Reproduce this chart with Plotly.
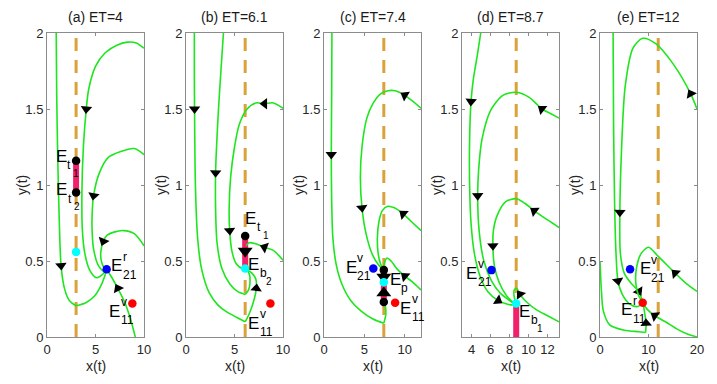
import math
import plotly.graph_objects as go

# panel text / axes
titles = ['(a) ET=4', '(b) ET=6.1', '(c) ET=7.4', '(d) ET=8.7', '(e) ET=12']
x_ranges = [[0, 10], [0, 10], [0, 12], [3, 13.2], [0, 20]]
x_ticks = [[0, 5, 10], [0, 5, 10], [0, 5, 10], [4, 6, 8, 10, 12], [0, 10, 20]]
y_ticks = [[0, 0.5, 1, 1.5, 2]] * 3 + [[0.5, 1, 1.5, 2], [0, 0.5, 1, 1.5, 2]]
et_x = [3, 6.1, 7.4, 8.7, 12]

# trajectories: (x list, y list, indices where an arrow head sits)
curves_a = [
    ([0.95, 1.0, 1.1, 1.25, 1.45, 1.8, 2.3, 3.0], [2.0, 1.6, 1.2, 0.8, 0.47, 0.32, 0.24, 0.205], [4]),
    ([3.0, 4.0, 4.9, 5.5, 5.95, 6.15], [0.205, 0.225, 0.27, 0.33, 0.4, 0.445], []),
    ([10, 9.2, 8.3, 7.2, 6.0, 5.0, 4.3, 4.05, 3.75, 3.6, 3.65, 3.9, 4.4, 5.1, 5.7, 6.15],
     [1.9, 1.935, 1.94, 1.92, 1.87, 1.78, 1.63, 1.5, 1.25, 0.95, 0.7, 0.55, 0.44, 0.39, 0.41, 0.445], [7]),
    ([10, 9.0, 7.6, 6.3, 5.4, 4.8, 4.65, 4.65, 4.8, 5.3, 5.9, 6.15],
     [1.2, 1.24, 1.22, 1.18, 1.08, 0.93, 0.8, 0.7, 0.58, 0.47, 0.43, 0.445], [5]),
    ([10, 9.0, 7.9, 6.9, 6.2, 5.8, 5.55, 5.6, 5.85, 6.15],
     [0.6, 0.68, 0.7, 0.69, 0.67, 0.63, 0.56, 0.5, 0.46, 0.445], [5]),
    ([9.1, 8.6, 8.0, 7.3, 6.7, 6.3, 6.15], [0.0, 0.12, 0.23, 0.32, 0.39, 0.43, 0.445], [3]),
]
curves_b = [
    ([0.86, 0.86, 0.88, 0.97, 1.2, 1.6, 2.4, 3.3, 4.2, 5.2, 6.1],
     [2.0, 1.75, 1.5, 1.0, 0.65, 0.45, 0.29, 0.21, 0.165, 0.13, 0.1], [2]),
    ([6.1, 6.5, 6.95, 7.25, 7.2, 6.8, 6.25], [0.1, 0.15, 0.23, 0.32, 0.38, 0.42, 0.445], [3]),
    ([3.86, 3.6, 3.35, 3.15, 3.05, 3.05, 3.2, 3.7, 4.5, 5.3, 6.1],
     [2.0, 1.75, 1.5, 1.25, 1.08, 0.85, 0.62, 0.45, 0.35, 0.3, 0.28], [4]),
    ([6.1, 6.45, 6.6, 6.55, 6.25], [0.28, 0.31, 0.36, 0.41, 0.445], []),
    ([10, 9.0, 8.1, 7.2, 6.3, 5.5, 5.0, 4.6, 4.45, 4.5, 4.75, 5.2, 5.8, 6.1],
     [1.505, 1.54, 1.535, 1.54, 1.5, 1.4, 1.25, 1.05, 0.85, 0.7, 0.56, 0.48, 0.45, 0.45], [2, 9]),
    ([10, 9.0, 8.1, 7.1, 6.5, 6.2], [0.505, 0.57, 0.59, 0.615, 0.62, 0.6], [2]),
]
curves_c = [
    ([0.98, 0.95, 0.9, 0.95, 1.1, 1.5, 2.2, 3.3, 4.6, 6.0, 7.4],
     [2.0, 1.6, 1.2, 0.9, 0.65, 0.48, 0.35, 0.24, 0.17, 0.12, 0.09], [2]),
    ([7.4, 7.65, 7.6, 7.4], [0.09, 0.15, 0.2, 0.23], []),
    ([12, 11, 10, 8.8, 7.9, 7.0, 6.1, 5.3, 4.7, 4.5, 4.7, 5.2, 6.0, 6.8, 7.4],
     [1.505, 1.55, 1.59, 1.62, 1.62, 1.6, 1.54, 1.44, 1.25, 1.05, 0.85, 0.68, 0.54, 0.47, 0.44], [2, 10]),
    ([12, 10.8, 9.8, 8.7, 7.9, 7.2, 6.8, 6.6, 6.7, 7.0, 7.4],
     [0.7, 0.76, 0.81, 0.85, 0.86, 0.83, 0.76, 0.65, 0.55, 0.48, 0.44], [2]),
    ([12, 11, 10, 9.0, 8.3, 7.8, 7.5, 7.4], [0.31, 0.36, 0.4, 0.45, 0.5, 0.52, 0.49, 0.44], [2]),
]
curves_d = [
    ([4.97, 4.6, 4.2, 3.95, 3.8, 3.8, 3.95, 4.3, 4.9, 5.7, 6.8, 7.8, 8.6],
     [2.0, 1.85, 1.7, 1.55, 1.3, 1.0, 0.75, 0.55, 0.4, 0.3, 0.24, 0.215, 0.21], [3, 10]),
    ([13.2, 12.3, 11.4, 10.1, 8.7, 7.3, 6.0, 5.1, 4.75, 4.65, 4.8, 5.3, 6.1, 7.0, 8.0, 8.6],
     [1.44, 1.47, 1.5, 1.575, 1.61, 1.59, 1.49, 1.3, 1.1, 0.93, 0.7, 0.5, 0.37, 0.29, 0.24, 0.215], [2, 9]),
    ([13.2, 12, 10.6, 9.6, 8.7, 7.6, 6.7, 6.3, 6.25, 6.4, 6.9, 7.7, 8.6],
     [0.72, 0.77, 0.83, 0.88, 0.91, 0.89, 0.8, 0.7, 0.6, 0.47, 0.36, 0.27, 0.215], [2, 8]),
    ([13.2, 12, 10.8, 9.8, 9.1, 8.75, 8.5, 8.5, 8.7], [0.1, 0.14, 0.18, 0.23, 0.28, 0.32, 0.31, 0.26, 0.22], [4]),
]
curves_e = [
    ([0, 0.3, 0.7, 2.0, 5.0, 8.0, 9.4], [0.5, 0.3, 0.17, 0.08, 0.045, 0.035, 0.03], []),
    ([9.4, 9.5, 9.2, 8.9], [0.03, 0.09, 0.16, 0.22], [1]),
    ([2.7, 2.8, 3.0, 3.3, 3.7, 4.6, 6.0, 7.6, 8.8], [2.0, 1.4, 0.9, 0.55, 0.37, 0.28, 0.22, 0.2, 0.22], [4]),
    ([20, 18, 16, 13.5, 11.3, 9.8, 8.9], [0.0, 0.02, 0.05, 0.1, 0.14, 0.18, 0.22], [4]),
    ([20, 18.7, 15, 11.5, 8.8, 6.8, 5.2, 4.4, 4.1, 4.2, 5.0, 6.5, 8.0, 8.8],
     [1.5, 1.6, 1.8, 1.93, 1.965, 1.9, 1.65, 1.2, 0.82, 0.55, 0.42, 0.35, 0.3, 0.23], [1, 8, 12]),
    ([20, 17.5, 15.5, 12, 10, 8.5, 7.5, 7.4, 8.0, 8.8],
     [0.3, 0.36, 0.42, 0.53, 0.59, 0.55, 0.45, 0.35, 0.27, 0.23], [2]),
]
curves = [curves_a, curves_b, curves_c, curves_d, curves_e]

# sliding segments on x = ET line
bar_y = [[0.95, 1.16], [0.45, 0.665], [0.23, 0.44], [0.0, 0.21], None]

# equilibria
dots_x = [[3, 3, 3, 6.15, 8.8], [6.1, 6.1, 8.7], [7.4, 7.4, 7.4, 6.1, 8.8], [8.7, 6.1], [6.2, 8.8]]
dots_y = [[1.16, 0.95, 0.56, 0.445, 0.22], [0.665, 0.45, 0.22], [0.44, 0.23, 0.36, 0.45, 0.225],
          [0.22, 0.44], [0.445, 0.225]]
dots_c = [['black', 'black', '#00ffff', '#0000ff', '#ff0000'], ['black', '#00ffff', '#ff0000'],
          ['black', 'black', '#00ffff', '#0000ff', '#ff0000'], ['#00ffff', '#0000ff'], ['#0000ff', '#ff0000']]

# big arrows on the sliding segments: x, y, angle
big_arrows = [[], [(6.1, 0.565, 180)], [(7.4, 0.395, 180), (7.4, 0.29, 0)], [], []]

# labels: x, y of the "E", superscript, subscript, sub-subscript
labels = [
    [(1.45, 1.19, '', 't', '1'), (1.5, 0.97, '', 't', '2'), (7.2, 0.47, 'r', '21', ''), (7.0, 0.17, 'v', '11', '')],
    [(6.7, 0.78, '', 't', '1'), (7.0, 0.48, '', 'b', '2'), (7.0, 0.09, 'v', '11', '')],
    [(3.4, 0.46, 'v', '21', ''), (8.8, 0.38, '', 'p', ''), (10.1, 0.19, 'v', '11', '')],
    [(4.0, 0.42, 'v', '21', ''), (9.6, 0.17, '', 'b', '1')],
    [(9.3, 0.45, 'v', '21', ''), (5.5, 0.18, 'r', '11', '')],
]

# the page body has an 8px margin: draw in a figure 8px smaller and shift positions
OFF = 8
W, H = 717 - OFF, 384 - OFF
TOP, BOT = 33 - OFF, 337 - OFF
LEFTS = [47 - OFF, 186 - OFF, 324 - OFF, 462 - OFF, 600 - OFF]
PW = 97
GREEN = '#1ee61e'
FONT = 'Liberation Sans Narrow, Arial Narrow, Liberation Sans, sans-serif'

fig = go.Figure()
sy = (BOT - TOP) / 2.0

for p in range(5):
    xa = 'x' if p == 0 else 'x%d' % (p + 1)
    ya = 'y' if p == 0 else 'y%d' % (p + 1)
    sx = PW / (x_ranges[p][1] - x_ranges[p][0])

    fig.add_trace(go.Scatter(x=[et_x[p], et_x[p]], y=[0, 2], mode='lines', xaxis=xa, yaxis=ya,
                             line=dict(color='#d9a23a', width=3, dash='13px,9px')))
    if bar_y[p]:
        fig.add_trace(go.Scatter(x=[et_x[p], et_x[p]], y=bar_y[p], mode='lines', xaxis=xa, yaxis=ya,
                                 line=dict(color='#f0206a', width=6)))

    for cx, cy, arr in curves[p]:
        fig.add_trace(go.Scatter(x=cx, y=cy, mode='lines', xaxis=xa, yaxis=ya,
                                 line=dict(color=GREEN, width=1.6, shape='spline', smoothing=0.8)))
        if arr:
            ax_, ay_, ang = [], [], []
            for i in arr:
                i0, i1 = max(i - 1, 0), min(i + 1, len(cx) - 1)
                dx = (cx[i1] - cx[i0]) * sx
                dy = (cy[i1] - cy[i0]) * sy
                ax_.append(cx[i])
                ay_.append(cy[i])
                ang.append(math.degrees(math.atan2(dx, dy)))
            fig.add_trace(go.Scatter(x=ax_, y=ay_, mode='markers', xaxis=xa, yaxis=ya,
                                     marker=dict(symbol='triangle-up', size=10, color='black', angle=ang,
                                                 line=dict(width=0))))

    for bx, by, ba in big_arrows[p]:
        fig.add_trace(go.Scatter(x=[bx], y=[by], mode='markers', xaxis=xa, yaxis=ya,
                                 marker=dict(symbol='triangle-up', size=13, color='black', angle=ba)))

    fig.add_trace(go.Scatter(x=dots_x[p], y=dots_y[p], mode='markers', xaxis=xa, yaxis=ya,
                             marker=dict(size=8.5, color=dots_c[p], line=dict(width=0))))

    for lx, ly, sup, sub, subsub in labels[p]:
        fig.add_annotation(x=lx, y=ly, xref=xa, yref=ya, text='E', showarrow=False,
                           font=dict(size=17, color='black', family='Liberation Sans'))
        if sup:
            fig.add_annotation(x=lx, y=ly, xref=xa, yref=ya, text=sup, showarrow=False, xanchor='left',
                               xshift=4, yshift=9, font=dict(size=12, color='black', family='Liberation Sans'))
        if sub:
            fig.add_annotation(x=lx, y=ly, xref=xa, yref=ya, text=sub, showarrow=False, xanchor='left',
                               xshift=4, yshift=-9, font=dict(size=12, color='black', family='Liberation Sans'))
        if subsub:
            fig.add_annotation(x=lx, y=ly, xref=xa, yref=ya, text=subsub, showarrow=False, xanchor='left',
                               xshift=10, yshift=-17, font=dict(size=10, color='black', family='Liberation Sans'))

    x0 = LEFTS[p] / W
    x1 = (LEFTS[p] + PW) / W
    axis_common = dict(showline=True, linecolor='#8c8c8c', linewidth=1, mirror='ticks', ticks='inside',
                       ticklen=3, tickcolor='#8c8c8c', showgrid=False, zeroline=False, automargin=False,
                       tickfont=dict(size=13, color='#262626', family=FONT))
    fig.layout[('xaxis' if p == 0 else 'xaxis%d' % (p + 1))] = dict(
        domain=[x0, x1], range=x_ranges[p], tickvals=x_ticks[p], anchor=ya, **axis_common)
    fig.layout[('yaxis' if p == 0 else 'yaxis%d' % (p + 1))] = dict(
        domain=[1 - BOT / H, 1 - TOP / H], range=[0, 2], tickvals=y_ticks[p],
        ticktext=[('%g' % v) for v in y_ticks[p]], anchor=xa, **axis_common)

    cxp = (LEFTS[p] + PW / 2) / W
    txt = dict(xref='paper', yref='paper', showarrow=False, xanchor='center', yanchor='middle')
    fig.add_annotation(x=cxp, y=1 - (17 - OFF) / H, text=titles[p],
                       font=dict(size=14, color='#1a1a1a', family=FONT), **txt)
    fig.add_annotation(x=cxp, y=1 - (366 - OFF) / H, text='x(t)',
                       font=dict(size=14, color='#262626', family=FONT), **txt)
    fig.add_annotation(x=(LEFTS[p] - 25) / W, y=1 - (185 - OFF) / H, text='y(t)', textangle=-90,
                       font=dict(size=14, color='#262626', family=FONT), **txt)

fig.update_layout(width=W, height=H, margin=dict(l=0, r=0, t=0, b=0, pad=0, autoexpand=False),
                  showlegend=False, plot_bgcolor='white', paper_bgcolor='white')
fig.write_html('out.html')
